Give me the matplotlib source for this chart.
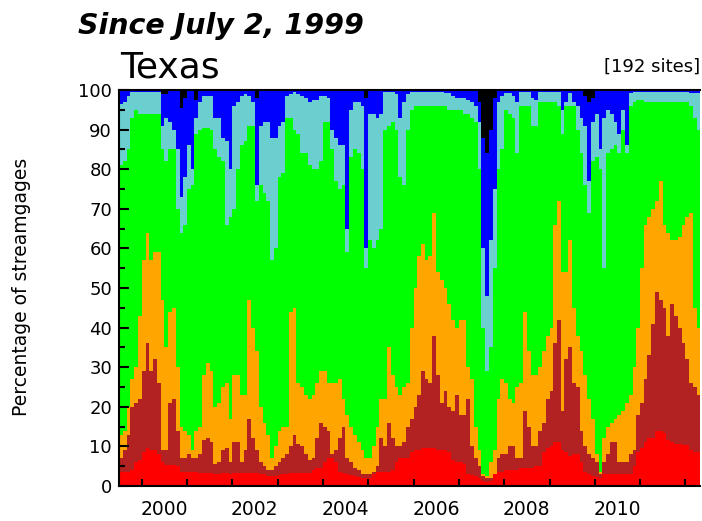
import matplotlib
matplotlib.use('Agg')
import matplotlib.pyplot as plt
import matplotlib.dates as mdates
from matplotlib.ticker import FixedLocator, FixedFormatter, MultipleLocator
import numpy as np
import pandas as pd

# monthly values, Jul 1999 .. Apr 2012, cumulative top of each class (percent of sites)
much_below_top = [3.6, 3.6, 3.6, 4, 6, 6.5,
    8.5, 9.5, 9, 9, 8, 6, 5.3, 5.3, 5.3, 5, 3.6, 3.6,
    3.6, 3.6, 3.6, 3.4, 3.2, 3.2, 3.2, 3, 3, 3.2, 3.2, 3,
    3.2, 3.2, 3.2, 3.2, 3.4, 3.4, 3.2, 3, 3, 2.6, 2.4, 2.4,
    2.8, 3, 3, 3.2, 3.4, 3.4, 3.2, 3.2, 3.4, 4, 4.5, 4.5,
    6, 7, 7, 6, 3.6, 3.2, 3, 2.8, 2.5, 2.2, 2, 2,
    2, 3, 3.6, 3.6, 3.6, 3.6, 4, 6, 7, 7, 7, 8.5,
    9, 9, 9.5, 9.5, 9.5, 9.5, 9, 9, 9, 8.5, 6.5, 6,
    6, 5.5, 3, 2.8, 2.5, 2, 1.2, 1, 1.2, 3, 3.6, 3.6,
    4, 4, 4, 4, 4.5, 4.5, 4.5, 4.5, 5, 5, 8.7, 9.5,
    10, 11, 11, 9, 8.5, 7.5, 8, 8, 6, 3.6, 3, 2.5,
    2.2, 2, 3, 3, 3, 3, 3, 3, 3, 3, 5, 8.7,
    9.5, 11, 12, 12, 13.8, 13.8, 13.5, 11.5, 11, 10.5, 10.5, 10.4,
    10.4, 9, 8.7, 8.7]

below10_top = [7, 9, 13, 20, 21, 22,
    29, 36, 29, 32, 26, 9, 9, 21, 22, 14, 7, 7,
    8, 7, 7, 8, 11.5, 12, 11, 5.5, 6, 9, 9.5, 6,
    11, 11, 6, 9, 17, 12, 9, 6, 5, 4, 4, 5,
    6, 7, 8, 10, 13, 10.5, 10, 8, 6.5, 7, 12, 16,
    15, 14, 8, 9, 12, 15, 7, 6, 4.5, 4, 3, 3,
    3, 3.5, 5, 12, 10, 16, 12, 10, 10, 11, 15, 17,
    20, 23, 29, 27, 26, 38, 28, 21, 24, 20, 19, 23,
    18, 18, 22, 10, 7, 5, 2.5, 2, 2, 3, 7, 8,
    8, 10, 10, 7, 7, 19, 15, 10, 10, 14, 16, 22,
    24, 36, 42, 19, 32, 35, 26, 25, 14, 10, 8, 7,
    6, 3, 6, 8, 11, 11, 6, 6, 6, 8, 9, 18,
    21, 27, 33, 41, 49, 47, 45, 38, 46, 43, 40, 36,
    32, 26, 25, 23]

below_top = [13, 14, 20, 27, 30, 43,
    57, 64, 57, 59, 59, 47, 35, 44, 45, 30, 15, 14,
    13, 9, 14, 15, 28, 31, 29, 20, 21, 25, 26, 17,
    28, 28, 23, 23, 47, 40, 34, 20, 16, 13, 7, 10,
    14, 15, 15, 44, 45, 26, 25, 23, 22, 23, 26, 29,
    29, 26, 26, 26, 27, 22, 18, 15, 13, 11, 9, 7,
    7, 10, 15, 22, 22, 35, 28, 25, 23, 25, 26, 40,
    50, 58, 61, 57, 58, 69, 54, 52, 50, 46, 42, 40,
    42, 42, 30, 27, 15, 9, 3, 2.5, 6, 9, 22, 27,
    26, 22, 21, 25, 26, 44, 34, 28, 28, 30, 34, 38,
    40, 66, 72, 54, 54, 62, 45, 38, 34, 28, 22, 17,
    8, 3.5, 12, 15, 16, 17, 18, 19, 21, 23, 30, 40,
    55, 66, 68, 70, 72, 77, 66, 64, 62, 62, 63, 66,
    68, 69, 45, 40]

normal_top = [81, 82, 85, 93, 95, 94,
    94, 94, 94, 94, 94, 85, 82, 85, 85, 70, 64, 66,
    75, 76, 89, 90, 90.5, 90.5, 90, 85, 83, 82, 66, 68,
    70, 80, 86, 87, 91, 91, 72, 76, 74, 72, 57, 60,
    78, 79, 93, 93, 90, 89, 84, 84, 81, 80, 80, 82,
    92, 92, 85, 77, 75, 76, 59, 83, 85, 84, 80, 55,
    62, 60, 62, 65, 90, 91, 92, 90, 78, 76, 90, 95,
    96, 96, 96, 96, 96, 96, 96, 96, 96, 95, 95, 95,
    95, 94, 94, 93, 92, 80, 40, 29, 35, 55, 80, 85,
    95, 94, 93, 84, 96, 96, 96, 91, 91, 97, 97, 97,
    97, 97, 96, 89, 96, 96, 96, 90, 84, 76, 69, 82,
    83, 80, 55, 84, 85, 86, 84, 90, 84, 96, 97, 97.5,
    97.5, 97, 97, 97, 97, 97, 97, 97, 97, 97, 97, 97,
    97, 96, 93, 90]

above_top = [96.4, 97, 98.5, 99.6, 99.6, 99.6,
    99.6, 99.6, 99.6, 99.6, 99.5, 91, 93, 92, 90, 85, 73, 78,
    86, 80, 93, 97, 98.5, 98.5, 98.5, 93, 93, 88, 87, 80,
    96, 97, 98.5, 99, 98.5, 97, 76, 91, 92, 92, 88, 88,
    91, 92, 98.5, 99, 99.6, 99, 98.5, 98, 97, 97.5, 97.5, 98.5,
    98.5, 98, 90, 88, 86, 86, 65, 95, 97, 97, 96, 60,
    94, 94, 93, 94, 99.6, 99.6, 99.6, 99, 93, 97, 99, 99.6,
    99.6, 99.6, 99.6, 99.6, 99.6, 99.6, 99.6, 99.6, 99.2, 99.2, 98.5, 98,
    98, 98, 97.5, 97, 96, 92, 60, 48, 62, 75, 97, 98.5,
    99.2, 99.2, 98.5, 97, 99.6, 99.6, 99.6, 98, 97.5, 99.6, 99.6, 99.6,
    99.6, 99.6, 99.6, 95, 97, 99.2, 97, 96, 93, 91, 77, 92,
    94, 85, 93, 95, 94, 92, 89, 95, 86, 99.2, 99.6, 99.6,
    99.6, 99.6, 99.6, 99.6, 99.6, 99.6, 99.6, 99.6, 99.6, 99.6, 99.6, 99.6,
    99.6, 99.2, 99.2, 99.2]

much_above_top = [100, 100, 100, 100, 100, 100,
    100, 100, 100, 100, 100, 99, 99, 100, 100, 100, 95.5, 98,
    100, 100, 97.5, 100, 100, 100, 100, 100, 100, 100, 100, 100,
    100, 100, 100, 100, 100, 100, 98, 100, 100, 100, 100, 100,
    100, 100, 100, 100, 100, 100, 100, 100, 100, 100, 100, 100,
    100, 100, 100, 100, 100, 100, 100, 100, 100, 100, 100, 98,
    100, 100, 100, 100, 100, 100, 100, 100, 100, 100, 100, 100,
    100, 100, 100, 100, 100, 100, 100, 100, 100, 100, 100, 100,
    100, 100, 100, 100, 100, 97, 88, 84, 90, 98, 100, 100,
    100, 100, 100, 100, 100, 100, 100, 100, 100, 100, 100, 100,
    100, 100, 100, 100, 100, 100, 100, 100, 100, 98.5, 97, 98,
    100, 100, 100, 100, 100, 100, 100, 100, 100, 100, 100, 100,
    100, 100, 100, 100, 100, 100, 100, 100, 100, 100, 100, 100,
    100, 100, 100, 100]

label_years = [2000, 2002, 2004, 2006, 2008, 2010]

colors = ['#FF0000', '#B22222', '#FFA500', '#00FF00', '#6CCFCF', '#0000FF', '#000000']

n = len(much_below_top)
dates = pd.date_range('1999-07-01', periods=n + 1, freq='MS')

def ext(v):
    v = np.asarray(v, dtype=float)
    return np.append(v, v[-1])

bounds = [np.zeros(n + 1)]
for arr in [much_below_top, below10_top, below_top, normal_top, above_top, much_above_top]:
    bounds.append(ext(arr))
bounds.append(np.full(n + 1, 100.0))

fig = plt.figure(figsize=(7.02, 5.21), dpi=100)
ax = fig.add_axes([119/702, 1-486/521, (700-119)/702, (486-90)/521])

for i in range(7):
    ax.fill_between(dates, bounds[i], bounds[i+1], step='post', color=colors[i], lw=0)

ax.set_xlim(pd.Timestamp('1999-07-02'), pd.Timestamp('2012-04-28'))
ax.set_ylim(0, 100)

ax.yaxis.set_major_locator(MultipleLocator(10))
ax.yaxis.set_minor_locator(MultipleLocator(5))
ax.tick_params(axis='y', which='major', direction='in', length=7, width=1.5, pad=5, labelsize=13)
ax.tick_params(axis='y', which='minor', direction='in', length=4.5, width=1.5)

ax.xaxis.set_major_locator(mdates.YearLocator())
ax.xaxis.set_major_formatter(FixedFormatter([]))
lab_pos = [mdates.date2num(pd.Timestamp(f'{y}-07-01')) for y in label_years]
ax.xaxis.set_minor_locator(FixedLocator(lab_pos))
ax.xaxis.set_minor_formatter(FixedFormatter([str(y) for y in label_years]))
ax.tick_params(axis='x', which='major', direction='in', length=5, width=1.5, labelbottom=False)
ax.tick_params(axis='x', which='minor', length=0, pad=10, labelsize=13.5)
for lab in ax.get_yticklabels() + ax.xaxis.get_minorticklabels():
    lab.set_family('DejaVu Sans')

for s in ['left', 'bottom', 'top']:
    ax.spines[s].set_linewidth(1.5)
ax.spines['right'].set_visible(False)
ax.set_axisbelow(False)

fig.text(78/702, 1-34/521, 'Since July 2, 1999', fontsize=20.5, fontweight='bold',
         fontstyle='italic', family='DejaVu Sans', va='baseline', ha='left')
fig.text(120/702, 1-77/521, 'Texas', fontsize=26, family='DejaVu Sans', va='baseline', ha='left')
fig.text(700/702, 1-72/521, '[192 sites]', fontsize=13, family='DejaVu Sans', va='baseline', ha='right')
fig.text(22/702, 1-287/521, 'Percentage of streamgages', fontsize=13.5, family='DejaVu Sans',
         rotation=90, va='center', ha='center')

fig.savefig('out.png', dpi=100)
